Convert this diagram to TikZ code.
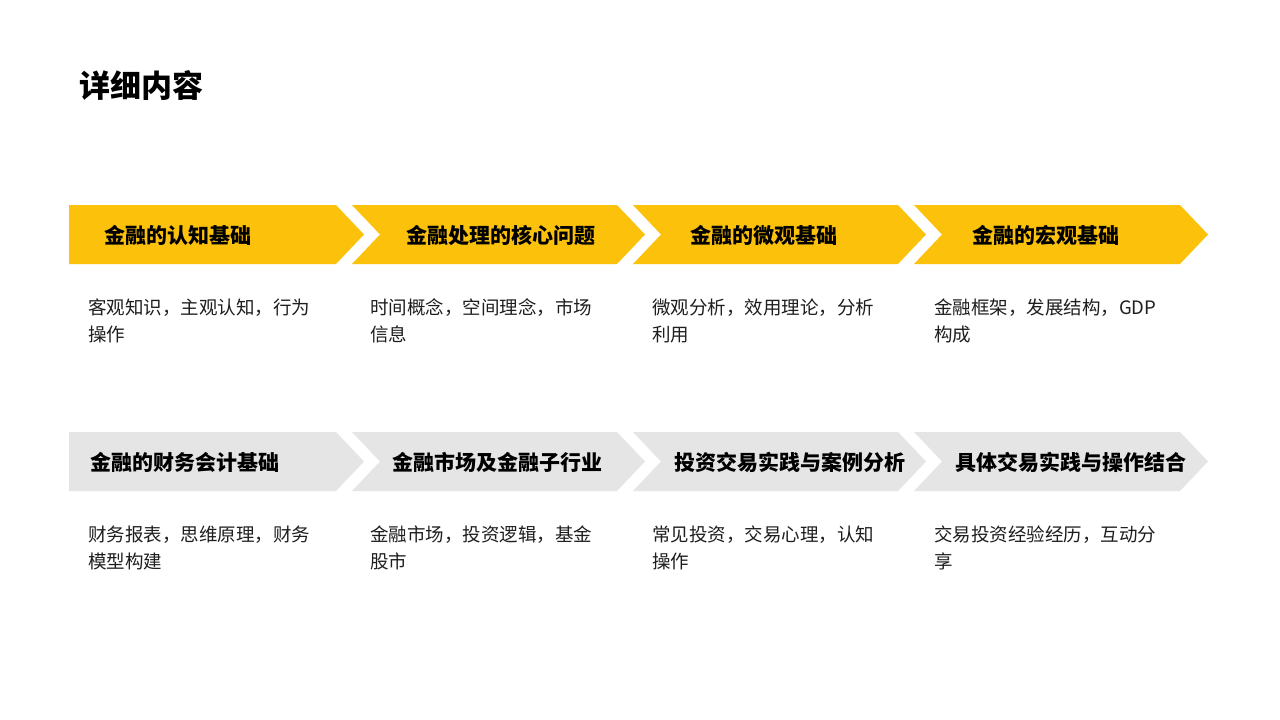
\documentclass[tikz,border=0pt]{standalone}
\usepackage{fontspec}
\setmainfont{Noto Sans CJK SC}
\definecolor{chevyellow}{RGB}{252,193,10}
\definecolor{chevgrey}{RGB}{229,229,229}
\definecolor{bodytext}{RGB}{30,30,30}
\tikzset{
  titletext/.style={anchor=base west,inner sep=0pt,font=\fontsize{31}{36}\selectfont\bfseries,text=black},
  headtext/.style={anchor=base,inner sep=0pt,font=\fontsize{21}{25}\selectfont\bfseries,text=black},
  bodybox/.style={anchor=base west,inner sep=0pt,align=left,font=\fontsize{18.5}{27}\selectfont,text=bodytext},
}
\begin{document}
\begin{tikzpicture}[x=1pt,y=-1pt]
\useasboundingbox (0,0) rectangle (1280,720);
\fill[white] (0,0) rectangle (1280,720);
% title
\node[titletext] (title) at (79,97) {详细内容};
% row 1 chevrons
\fill[chevyellow] (69,205) -- (336,205) -- (364,234.5) -- (336,264) -- (69,264) -- cycle;
\foreach \L/\R in {352/617,633/898,914/1180}{
  \fill[chevyellow] (\L,205) -- (\R,205) -- (\R+28,234.5) -- (\R,264) -- (\L,264) -- (\L+28,234.5) -- cycle;
}
% row 2 chevrons
\fill[chevgrey] (69,432) -- (336,432) -- (364,461.5) -- (336,491) -- (69,491) -- cycle;
\foreach \L/\R in {352/617,633/898,914/1180}{
  \fill[chevgrey] (\L,432) -- (\R,432) -- (\R+28,461.5) -- (\R,491) -- (\L,491) -- (\L+28,461.5) -- cycle;
}
% row 1 headings
\node[headtext] (h1) at (178,243) {金融的认知基础};
\node[headtext] (h2) at (501,243) {金融处理的核心问题};
\node[headtext] (h3) at (764,243) {金融的微观基础};
\node[headtext] (h4) at (1046,243) {金融的宏观基础};
% row 2 headings
\node[headtext] (h5) at (184.5,470.5) {金融的财务会计基础};
\node[headtext] (h6) at (497,470.5) {金融市场及金融子行业};
\node[headtext] (h7) at (789.5,470.5) {投资交易实践与案例分析};
\node[headtext] (h8) at (1070.5,470.5) {具体交易实践与操作结合};
% row 1 bodies (base anchor = baseline of last line)
\node[bodybox] (b1) at (88,341) {客观知识，主观认知，行为\\操作};
\node[bodybox] (b2) at (370,341) {时间概念，空间理念，市场\\信息};
\node[bodybox] (b3) at (652,341) {微观分析，效用理论，分析\\利用};
\node[bodybox] (b4) at (934,341) {金融框架，发展结构，GDP\\构成};
% row 2 bodies
\node[bodybox] (b5) at (88,568) {财务报表，思维原理，财务\\模型构建};
\node[bodybox] (b6) at (370,568) {金融市场，投资逻辑，基金\\股市};
\node[bodybox] (b7) at (652,568) {常见投资，交易心理，认知\\操作};
\node[bodybox] (b8) at (934,568) {交易投资经验经历，互动分\\享};
\end{tikzpicture}
\end{document}
